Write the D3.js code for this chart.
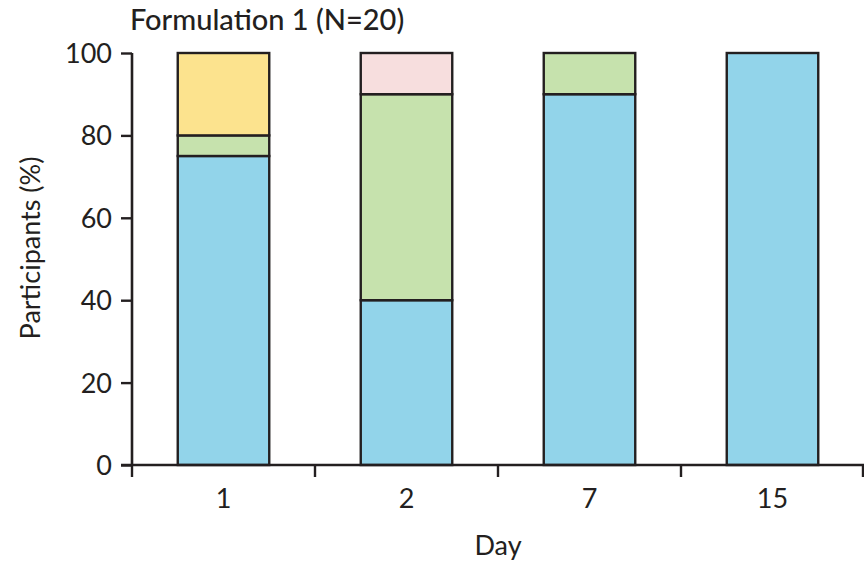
<!DOCTYPE html>
<html>
<head>
<meta charset="utf-8">
<script src="https://cdn.jsdelivr.net/npm/d3@7"></script>
<style>
  html, body { margin: 0; padding: 0; background: #fff; }
  svg text { font-family: Lato, "Open Sans", sans-serif; fill: #231f20; }
</style>
</head>
<body>
<svg id="chart" width="864" height="562"></svg>
<script>
// Days on the x axis
const days = ["1", "2", "7", "15"];
// Percentage of participants in each stacked group, per day
const grade0 = [75, 40, 90, 100];
const grade1 = [5, 50, 10, 0];
const grade2 = [20, 0, 0, 0];
const grade3 = [0, 10, 0, 0];
const yTicks = [0, 20, 40, 60, 80, 100];

const seriesNames = ["grade0", "grade1", "grade2", "grade3"];
const seriesColors = ["#92d4ea", "#c6e2ad", "#fce38e", "#f7dede"];

const rows = days.map((d, i) => ({
  day: d, grade0: grade0[i], grade1: grade1[i], grade2: grade2[i], grade3: grade3[i]
}));

const svg = d3.select("#chart");
const plotLeft = 132, plotRight = 864, plotTop = 53, plotBottom = 465;
const fontSize = 27;
const ink = "#231f20";

const x = d3.scaleBand().domain(days).range([plotLeft, plotRight])
  .paddingInner(0.5).paddingOuter(0.25);
const y = d3.scaleLinear().domain([0, 100]).range([plotBottom, plotTop]);
const color = d3.scaleOrdinal().domain(seriesNames).range(seriesColors);

const stacked = d3.stack().keys(seriesNames)(rows);

// stacked bars
svg.append("g")
  .selectAll("g")
  .data(stacked)
  .join("g")
  .attr("fill", s => color(s.key))
  .selectAll("rect")
  .data(s => s.filter(d => d[1] - d[0] > 0))
  .join("rect")
  .attr("x", d => x(d.data.day))
  .attr("width", x.bandwidth())
  .attr("y", d => y(d[1]))
  .attr("height", d => y(d[0]) - y(d[1]))
  .attr("stroke", ink)
  .attr("stroke-width", 2.4);

// y axis
const yAxis = svg.append("g")
  .attr("transform", `translate(${plotLeft},0)`)
  .call(d3.axisLeft(y).tickValues(yTicks).tickSize(11).tickPadding(9));
yAxis.select(".domain").attr("d", `M0,${plotTop}V${plotBottom}`).attr("stroke", ink).attr("stroke-width", 2.6);
yAxis.selectAll(".tick line").attr("stroke", ink).attr("stroke-width", 2.4);
yAxis.selectAll(".tick text").attr("font-size", fontSize).style("font-family", "Lato, sans-serif").attr("dy", "0.35em");

// x axis with ticks at band boundaries
const xAxis = svg.append("g").attr("transform", `translate(0,${plotBottom})`);
xAxis.append("line").attr("x1", plotLeft - 11).attr("x2", plotRight).attr("y1", 0).attr("y2", 0)
  .attr("stroke", ink).attr("stroke-width", 2.6);
const edges = d3.range(days.length + 1).map(i => plotLeft + i * x.step());
xAxis.selectAll("line.tk").data(edges).join("line").attr("class", "tk")
  .attr("x1", d => Math.min(d, plotRight - 1)).attr("x2", d => Math.min(d, plotRight - 1))
  .attr("y1", 0).attr("y2", 12)
  .attr("stroke", ink).attr("stroke-width", 2.4);
xAxis.selectAll("text").data(days).join("text")
  .attr("x", d => x(d) + x.bandwidth() / 2)
  .attr("y", 43)
  .attr("text-anchor", "middle")
  .attr("font-size", fontSize)
  .text(d => d);

// axis titles
svg.append("text")
  .attr("x", 498)
  .attr("y", 555)
  .attr("text-anchor", "middle")
  .attr("font-size", fontSize)
  .text("Day");
svg.append("text")
  .attr("transform", `translate(40,${248}) rotate(-90)`)
  .attr("text-anchor", "middle")
  .attr("font-size", fontSize)
  .text("Participants (%)");

// title
svg.append("text")
  .attr("x", 130)
  .attr("y", 30)
  .attr("font-size", 29)
  .attr("font-weight", 500)
  .text("Formulation 1 (N=20)");
</script>
</body>
</html>
